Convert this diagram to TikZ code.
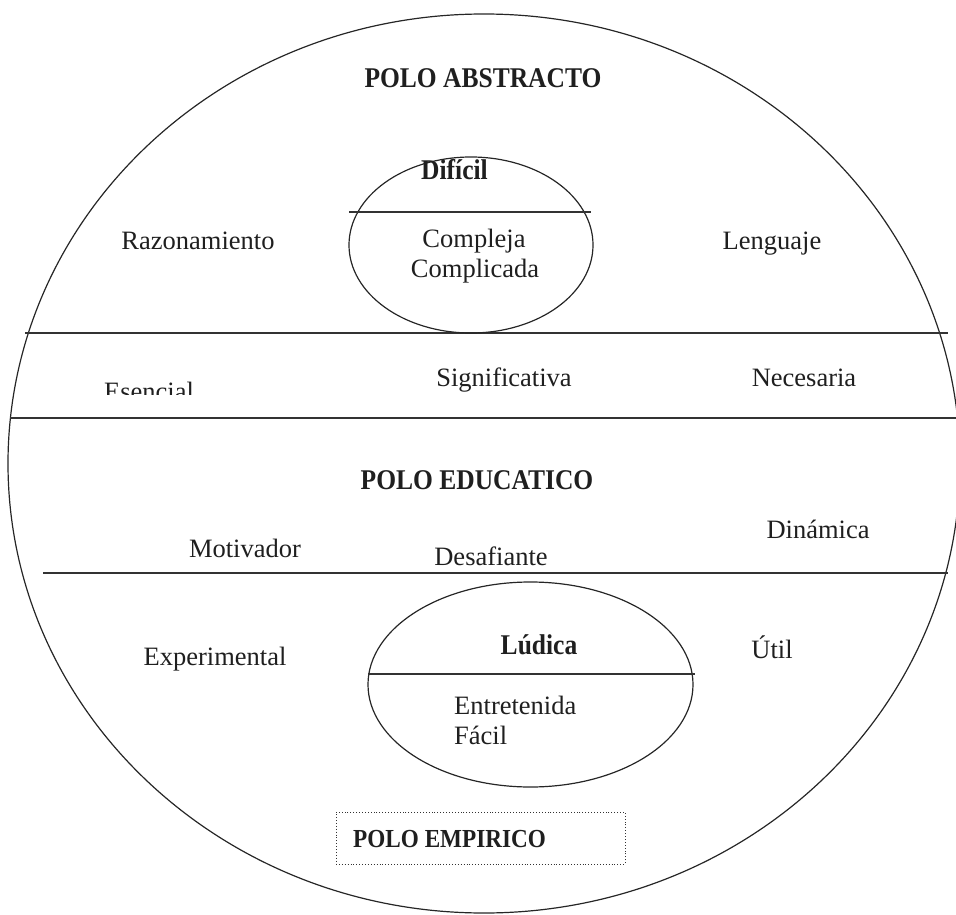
\documentclass[tikz,border=0pt]{standalone}
\usepackage{fontspec}
\usepackage{graphicx}
\setmainfont{Liberation Serif}
\newcommand\tallbf[1]{\scalebox{1}[1.12]{\bfseries #1}}
\tikzset{
  lbl/.style={inner sep=0pt, anchor=base, font=\fontsize{26.5}{30}\selectfont, text=black!88},
  lblw/.style={lbl, anchor=base west},
  hdr/.style={inner sep=0pt, anchor=base, font=\fontsize{25.5}{30}\selectfont, text=black!88},
  hdrw/.style={hdr, anchor=base west},
  shp/.style={line width=1.2pt, draw=black!85},
  sep/.style={line width=1.2pt, draw=black!80},
}
\begin{document}
\begin{tikzpicture}[x=1pt,y=-1pt]
\useasboundingbox (0,0) rectangle (956,915);
% big ellipse
\draw[shp] (484,463.5) ellipse [x radius=476, y radius=449.5];
% separators
\coordinate (l1a) at (25,333); \coordinate (l1b) at (948,333);
\coordinate (l2a) at (10,418); \coordinate (l2b) at (956,418);
\coordinate (l3a) at (43,573); \coordinate (l3b) at (948,573);
\draw[sep] (l1a) -- (l1b);
\draw[sep] (l2a) -- (l2b);
\draw[sep] (l3a) -- (l3b);
% top small ellipse
\draw[shp] (471,245) ellipse [x radius=122, y radius=88];
\coordinate (d1a) at (349,212); \coordinate (d1b) at (591,212);
\draw[sep] (d1a) -- (d1b);
% bottom small ellipse
\draw[shp] (530.5,684.5) ellipse [x radius=162.5, y radius=102.5];
\coordinate (d2a) at (368,674); \coordinate (d2b) at (695,674);
\draw[sep] (d2a) -- (d2b);
% texts
\node[hdr] (pa) at (483,88) {\tallbf{POLO ABSTRACTO}};
\node[hdrw] (dif) at (421,179) {\tallbf{Difícil}};
\node[lbl] (comp1) at (474,247) {Compleja};
\node[lbl] (comp2) at (475,277) {Complicada};
\node[lbl] (raz) at (198,249) {Razonamiento};
\node[lbl] (len) at (772,249) {Lenguaje};
\begin{scope}
  \clip (90,360) rectangle (220,394);
  \node[lblw] (esen) at (104,400) {Esencial};
\end{scope}
\node[lbl] (sig) at (504,386) {Significativa};
\node[lbl] (nec) at (804,386) {Necesaria};
\node[hdr] (pe) at (477,489) {\tallbf{POLO EDUCATICO}};
\node[lbl] (mot) at (245,557) {Motivador};
\node[lbl] (des) at (491,565) {Desafiante};
\node[lbl] (din) at (818,538) {Dinámica};
\node[lbl] (exp) at (215,665) {Experimental};
\node[hdr] (lud) at (539,654) {\tallbf{Lúdica}};
\node[lbl] (util) at (772,658) {Útil};
\node[lblw] (ent) at (454,714) {Entretenida};
\node[lblw] (fac) at (454,744) {Fácil};
% empirico box
\node[draw=black!80, dotted, line width=0.9pt, minimum width=289pt, minimum height=52pt, inner sep=0pt] (box) at (480.5,838) {};
\node[hdrw, font=\fontsize{23.2}{28}\selectfont] (pem) at (353,847) {\tallbf{POLO EMPIRICO}};
\end{tikzpicture}
\end{document}
